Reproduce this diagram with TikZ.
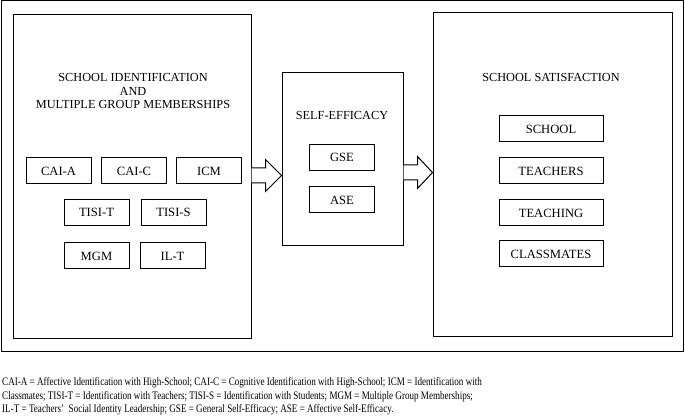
\documentclass[tikz,border=0pt]{standalone}
\usepackage{fontspec}
\setmainfont{Liberation Serif}
\newfontfamily\legendfont[FakeStretch=0.79]{Liberation Serif}
\usepackage{tikz}
\usetikzlibrary{calc, positioning}
\tikzset{
    panel/.style={draw, line width=1pt, inner sep=0pt},
    measure/.style={draw, line width=1pt, minimum width=65pt, minimum height=26pt, inner sep=0pt, font=\fontsize{12.6}{14}\selectfont},
    longmeasure/.style={measure, minimum width=104pt},
    heading/.style={align=center, inner sep=0pt, font=\fontsize{12.3}{13.5}\selectfont}
}
\newcommand{\indicator}[3]{
    \node[measure] (#1) at (#2) {#3};
}
\newcommand{\fatarrow}[4]{
    \draw[line width=1pt, fill=white]
    ($(#1.east |- #3)+(0,-7.5)$) -- ($(#2.west |- #3)+(-#4,-7.5)$) -- ($(#2.west |- #3)+(-#4,-16)$) -- (#2.west |- #3) -- ($(#2.west |- #3)+(-#4,16)$) -- ($(#2.west |- #3)+(-#4,7.5)$) -- ($(#1.east |- #3)+(0,7.5)$);
}
\begin{document}
\begin{tikzpicture}[x=1pt, y=-1pt]
                        \useasboundingbox (0,0) rectangle (685,419);
                        \node[panel, minimum width=682pt, minimum height=351pt] (frame) at (342.5,176.5) {};
                        % three panels
                        \node[panel, minimum width=238pt, minimum height=324pt] (ident) at (132,177) {};
                        \node[panel, minimum width=121pt, minimum height=173pt] (eff) at (342.5,159.5) {};
                        \node[panel, minimum width=239pt, minimum height=324pt] (satis) at (552.5,175) {};
                        \node[heading] (ident-t) at (133,91) {SCHOOL IDENTIFICATION\\AND\\MULTIPLE GROUP MEMBERSHIPS};
                        \node[heading] (eff-t) at (342,115) {SELF-EFFICACY};
                        \node[heading] (satis-t) at (551,77) {SCHOOL SATISFACTION};
                        % left panel
                        \indicator{caia}{58.5,171}{CAI-A}
                        \indicator{caic}{134,171}{CAI-C}
                        \indicator{icm}{209,171}{ICM}
                        \indicator{tisit}{96.5,212.5}{TISI-T}
                        \indicator{tisis}{173.5,212.5}{TISI-S}
                        \indicator{mgm}{96.5,256}{MGM}
                        \indicator{ilt}{172.5,256}{IL-T}
                        % middle panel
                        \indicator{gse}{342,157.5}{GSE}
                        \indicator{ase}{342,200}{ASE}
                        % right panel
                        \node[longmeasure] (school) at (551,129) {SCHOOL};
                        \node[longmeasure] (teachers) at (551,171) {TEACHERS};
                        \node[longmeasure] (teaching) at (551,213) {TEACHING};
                        \node[longmeasure] (classmates) at (551,254) {CLASSMATES};
                        % arrows
                        \coordinate (row1) at (0,175.5);
                        \coordinate (row2) at (0,172.5);
                        \fatarrow{ident}{eff}{row1}{16}
                        \fatarrow{eff}{satis}{row2}{15}
                        \node[anchor=north west, align=left, inner sep=0pt, font=\legendfont\fontsize{11.5}{13.8}\selectfont] (legend) at (2,377)
                        {CAI-A = Affective Identification with High-School; CAI-C = Cognitive Identification with High-School; ICM = Identification with\\
                        Classmates; TISI-T = Identification with Teachers; TISI-S = Identification with Students; MGM = Multiple Group Memberships;\\
                        IL-T = Teachers’~ Social Identity Leadership; GSE = General Self-Efficacy; ASE = Affective Self-Efficacy.};
                    \end{tikzpicture}
\end{document}
